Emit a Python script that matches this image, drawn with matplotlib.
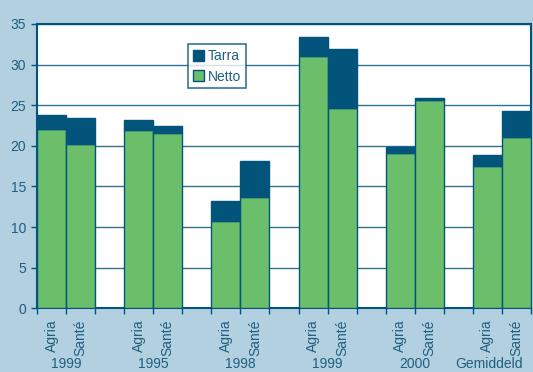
import matplotlib
matplotlib.use("Agg")
import matplotlib.pyplot as plt
import numpy as np

groups = ["1999", "1995", "1998", "1999", "2000", "Gemiddeld"]
varieties = ["Agria", "Santé"]
netto_agria = [22.1, 21.9, 10.8, 31.1, 19.1, 17.5]
total_agria = [23.8, 23.2, 13.2, 33.4, 19.9, 18.9]
netto_sante = [20.2, 21.6, 13.7, 24.6, 25.6, 21.1]
total_sante = [23.4, 22.4, 18.1, 31.9, 25.9, 24.3]
yticks = [0, 5, 10, 15, 20, 25, 30, 35]

bg = "#b3d0e0"
green = "#6cbf6a"
dark = "#02547a"
txt = "#1e5f80"
grid = "#2f7190"

plt.rcParams['font.family'] = ['Liberation Sans', 'DejaVu Sans']

fig = plt.figure(figsize=(5.33, 3.72), dpi=100, facecolor=bg)
ax = fig.add_axes([0.0694, 0.1712, 0.9268, 0.7643])
ax.set_facecolor("white")

n = len(groups)
xa = np.arange(n) * 3 + 0.5
xs = np.arange(n) * 3 + 1.5
na = np.array(netto_agria); ta = np.array(total_agria) - na
ns = np.array(netto_sante); ts = np.array(total_sante) - ns

for x, nv, tv in ((xa, na, ta), (xs, ns, ts)):
    ax.bar(x, nv, width=1.0, color=green, edgecolor=dark, linewidth=1.0, zorder=3,
           label="Netto" if x is xa else None)
    ax.bar(x, tv, bottom=nv, width=1.0, color=dark, edgecolor=dark, linewidth=1.0, zorder=3,
           label="Tarra" if x is xa else None)

ax.set_xlim(0, 17)
ax.set_ylim(0, 35)
ax.set_yticks(yticks)
ax.yaxis.grid(True, color=grid, linewidth=1.0, zorder=0)
ax.set_axisbelow(True)
ax.set_xticks(np.arange(0, 18))
ax.set_xticklabels([])
ax.tick_params(axis='x', length=4, color=dark, width=1)
ax.tick_params(axis='y', length=4, color=dark, width=1, labelcolor=txt, labelsize=10, pad=4)
for s in ax.spines.values():
    s.set_color(dark)
    s.set_linewidth(1.5)

for g in range(n):
    ax.text(xa[g], -1.4, varieties[0], rotation=90, ha='center', va='top', color=txt, fontsize=10)
    ax.text(xs[g], -1.4, varieties[1], rotation=90, ha='center', va='top', color=txt, fontsize=10)
    if g == n - 1:
        ax.text(16.7, -7.3, groups[g], ha='right', va='baseline', color=txt, fontsize=10)
    else:
        ax.text(3 * g + 1.0, -7.3, groups[g], ha='center', va='baseline', color=txt, fontsize=10)

handles, labels = ax.get_legend_handles_labels()
order = [labels.index("Tarra"), labels.index("Netto")]
leg = ax.legend([handles[i] for i in order], [labels[i] for i in order],
                loc='upper left', bbox_to_anchor=(0.305, 0.928), frameon=True, fancybox=False,
                fontsize=10, handlelength=0.8, handleheight=0.8, handletextpad=0.3,
                borderpad=0.35, labelspacing=0.45, borderaxespad=0)
leg.get_frame().set_edgecolor(dark)
leg.get_frame().set_linewidth(1.2)
for t in leg.get_texts():
    t.set_color(txt)

fig.savefig("out.png", dpi=100, facecolor=bg)
